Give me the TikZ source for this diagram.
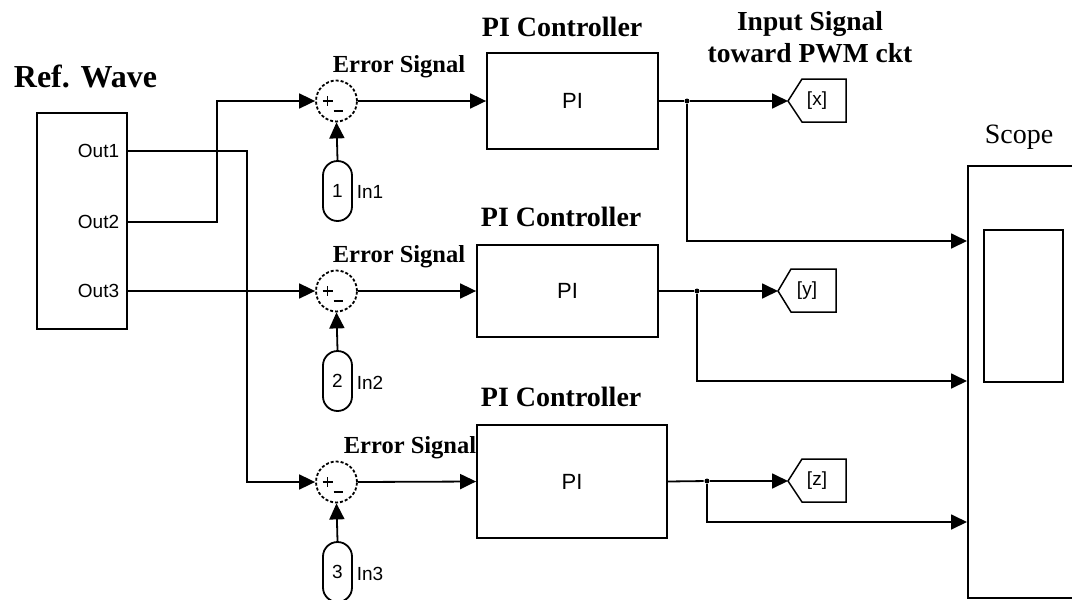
\documentclass[tikz,border=0pt]{standalone}
\usepackage{fontspec}
\setmainfont{Liberation Serif}
\newfontfamily\sansf{Liberation Sans}
\usetikzlibrary{arrows.meta,calc}
\begin{document}
\begin{tikzpicture}[x=1pt,y=-1pt,
  line width=1.8pt,
  arr/.style={-{Triangle[length=16pt,width=15pt]}},
  blk/.style={draw,rectangle,inner sep=0pt,font=\sansf\fontsize{22}{24}\selectfont},
  sumc/.style={draw,circle,minimum size=41pt,inner sep=0pt,dash pattern=on 3pt off 2pt},
  inport/.style={draw,rectangle,rounded corners=14.5pt,minimum width=29pt,minimum height=60pt,inner sep=0pt,font=\sansf\fontsize{19}{21}\selectfont},
  ptxt/.style={inner sep=0pt,font=\sansf\fontsize{19}{21}\selectfont},
  btitle/.style={inner sep=0pt,font=\bfseries\fontsize{28}{30}\selectfont,anchor=base west},
  etitle/.style={inner sep=0pt,font=\bfseries\fontsize{24.5}{26}\selectfont,anchor=base west},
  ititle/.style={inner sep=0pt,font=\bfseries\fontsize{27.5}{30}\selectfont,anchor=base},
  tagtxt/.style={inner sep=0pt,font=\sansf\fontsize{19}{21}\selectfont},
  dot/.style={circle,fill,inner sep=0pt,minimum size=5pt}
]
\useasboundingbox (0,0) rectangle (1072,600);
\clip (0,0) rectangle (1072,600);

% Reference wave block
\node[draw,rectangle,inner sep=0pt,minimum width=90pt,minimum height=216pt] (ref) at (82,221) {};
\node[inner sep=0pt,font=\bfseries\fontsize{32}{34}\selectfont,anchor=base west] (reft) at (13,87) {Ref. Wave};
\node[ptxt,anchor=east] (o1) at (120,151) {Out1};
\node[ptxt,anchor=east] (o2) at (120,222) {Out2};
\node[ptxt,anchor=east] (o3) at (120,291) {Out3};
\coordinate (p1) at (127,151);
\coordinate (p2) at (127,222);
\coordinate (p3) at (127,291);

% Sum blocks
\node[sumc] (s1) at (336.5,101) {};
\node[sumc] (s2) at (336.5,291) {};
\node[sumc] (s3) at (336.5,482) {};
\foreach \s in {s1,s2,s3}{
  \draw[line width=1.3pt] ($(\s.center)+(-14,0)$) -- ($(\s.center)+(-4,0)$);
  \draw[line width=1.3pt] ($(\s.center)+(-9,-5)$) -- ($(\s.center)+(-9,5)$);
  \draw[line width=1.3pt] ($(\s.center)+(-3,10)$) -- ($(\s.center)+(6,10)$);
}

% Error Signal labels
\node[etitle] (e1) at (332,72) {Error Signal};
\node[etitle] (e2) at (332,262) {Error Signal};
\node[etitle] (e3) at (343,453) {Error Signal};

% Inports
\node[inport] (i1) at (337.5,191) {1};
\node[inport] (i2) at (337.5,381) {2};
\node[inport] (i3) at (337.5,572) {3};
\node[ptxt,anchor=west] (l1) at (356,192) {In1};
\node[ptxt,anchor=west] (l2) at (356,383) {In2};
\node[ptxt,anchor=west] (l3) at (356,574) {In3};

% PI blocks
\node[blk,minimum width=171pt,minimum height=96pt] (pi1) at (572.5,101) {PI};
\node[blk,minimum width=181pt,minimum height=92pt] (pi2) at (567.5,291) {PI};
\node[blk,minimum width=190pt,minimum height=113pt] (pi3) at (572,481.5) {PI};
\node[btitle] (c1) at (481,36) {PI Controller};
\node[btitle] (c2) at (480,226) {PI Controller};
\node[btitle] (c3) at (480,406) {PI Controller};

% Input signal title
\node[ititle] (ist1) at (810,30) {Input Signal};
\node[ititle] (ist2) at (810,62) {toward PWM ckt};

% Goto tags
\node[tagtxt] (gx) at (817,101) {[x]};
\node[tagtxt] (gy) at (807,291) {[y]};
\node[tagtxt] (gz) at (817,481) {[z]};
\coordinate (tx) at (788,101);
\coordinate (ty) at (778,291);
\coordinate (tz) at (788,481);
\draw[line width=1.5pt] (tx) -- (802,79) -- (846,79) -- (846,122) -- (802,122) -- cycle;
\draw[line width=1.5pt] (ty) -- (791,269) -- (836,269) -- (836,312) -- (791,312) -- cycle;
\draw[line width=1.5pt] (tz) -- (802,459) -- (846,459) -- (846,502) -- (802,502) -- cycle;

% Scope
\node[draw,rectangle,inner sep=0pt,minimum width=140pt,minimum height=432pt,anchor=north west] (scope) at (967,165) {};
\node[draw,rectangle,inner sep=0pt,minimum width=79pt,minimum height=152pt,anchor=north west] (screen) at (983,229) {};
\node[inner sep=0pt,font=\fontsize{28}{30}\selectfont,anchor=base west] (scopet) at (984,143) {Scope};
\coordinate (sc1) at (967,241);
\coordinate (sc2) at (967,381);
\coordinate (sc3) at (967,522);

% Branch dots
\node[dot] (d1) at (687,101) {};
\node[dot] (d2) at (697,291) {};
\node[dot] (d3) at (707,481) {};

% Connections from reference
\draw[arr] (p2) -- (217,222) |- (s1.west);
\draw[arr] (p3) -- (s2.west);
\draw[arr] (p1) -- (247,151) |- (s3.west);

% Inports to sums
\draw[arr] (i1.north) -- (s1.south);
\draw[arr] (i2.north) -- (s2.south);
\draw[arr] (i3.north) -- (s3.south);

% Sums to PI
\draw[arr] (s1.east) -- (pi1.west);
\draw[arr] (s2.east) -- (pi2.west);
\draw[arr] (s3.east) -- (pi3.west);

% PI outputs
\draw (pi1.east) -- (d1);
\draw (pi2.east) -- (d2);
\draw (pi3.east) -- (d3);
\draw[arr] (d1) -- (tx);
\draw[arr] (d2) -- (ty);
\draw[arr] (d3) -- (tz);
\draw[arr] (d1) |- (sc1);
\draw[arr] (d2) |- (sc2);
\draw[arr] (d3) |- (sc3);
\end{tikzpicture}
\end{document}
